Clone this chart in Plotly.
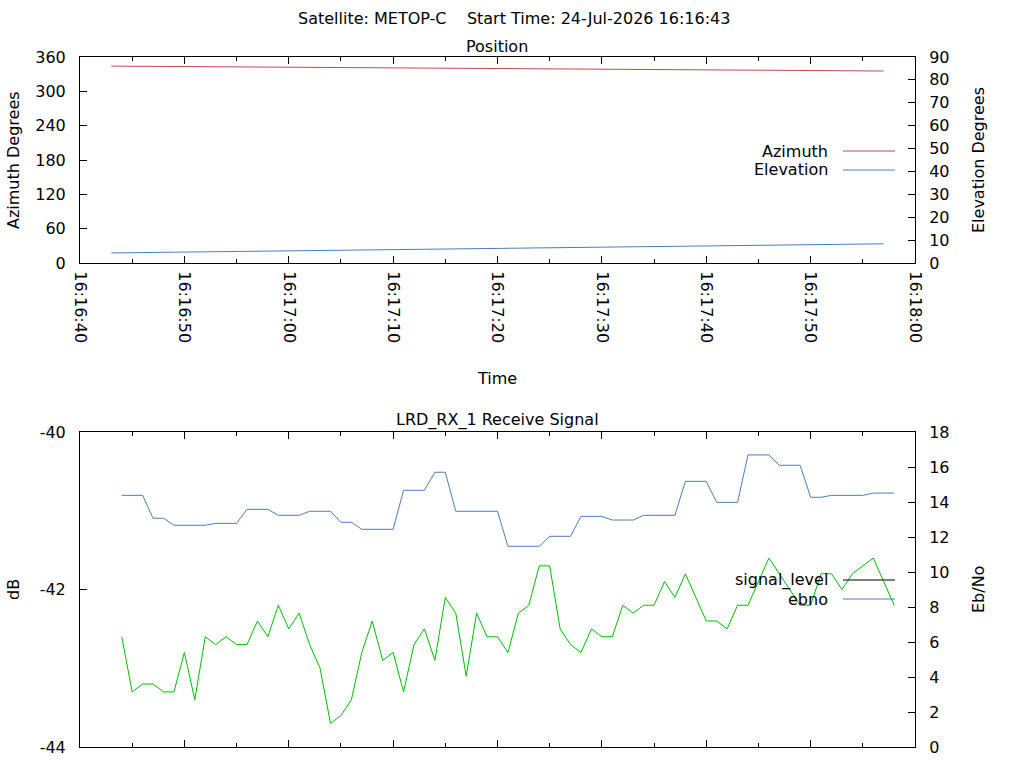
import pandas as pd
import plotly.graph_objects as go

# ---------------- data ----------------
DATE = "2026-07-24"
title_text = "Satellite: METOP-C    Start Time: 24-Jul-2026 16:16:43"

pos_times = ["16:16:43", "16:16:48", "16:16:53", "16:16:58", "16:17:03", "16:17:08",
             "16:17:13", "16:17:18", "16:17:23", "16:17:28", "16:17:33", "16:17:38",
             "16:17:43", "16:17:48", "16:17:53", "16:17:57"]
azimuth = [344.1, 343.6, 343.0, 342.5, 342.0, 341.5, 340.9, 340.3,
           339.7, 339.1, 338.5, 337.85, 337.2, 336.6, 336.0, 335.5]
elevation = [4.39, 4.67, 4.94, 5.21, 5.48, 5.74, 6.01, 6.28,
             6.55, 6.82, 7.09, 7.36, 7.62, 7.89, 8.16, 8.37]

sig_start = "16:16:44"
signal_level = [-42.6, -43.3, -43.2, -43.2, -43.3, -43.3, -42.8, -43.4, -42.6, -42.7,
                -42.6, -42.7, -42.7, -42.4, -42.6, -42.2, -42.5, -42.3, -42.7, -43.0,
                -43.7, -43.6, -43.4, -42.8, -42.4, -42.9, -42.8, -43.3, -42.7, -42.5,
                -42.9, -42.1, -42.3, -43.1, -42.3, -42.6, -42.6, -42.8, -42.3, -42.2,
                -41.7, -41.7, -42.5, -42.7, -42.8, -42.5, -42.6, -42.6, -42.2, -42.3,
                -42.2, -42.2, -41.9, -42.1, -41.8, -42.1, -42.4, -42.4, -42.5, -42.2,
                -42.2, -41.9, -41.6, -41.8, -42.0, -42.2, -42.2, -41.8, -41.8, -42.0,
                -41.8, -41.7, -41.6, -41.9, -42.2]
ebno = [14.38, 14.38, 14.38, 13.07, 13.07, 12.67, 12.67, 12.67, 12.67, 12.78,
        12.78, 12.78, 13.58, 13.58, 13.58, 13.24, 13.24, 13.24, 13.47, 13.47,
        13.47, 12.84, 12.84, 12.44, 12.44, 12.44, 12.44, 14.67, 14.67, 14.67,
        15.70, 15.70, 13.47, 13.47, 13.47, 13.47, 13.47, 11.47, 11.47, 11.47,
        11.47, 12.04, 12.04, 12.04, 13.18, 13.18, 13.18, 12.97, 12.97, 12.97,
        13.24, 13.24, 13.24, 13.24, 15.18, 15.18, 15.18, 13.98, 13.98, 13.98,
        16.69, 16.69, 16.69, 16.10, 16.10, 16.10, 14.27, 14.27, 14.38, 14.38,
        14.38, 14.38, 14.51, 14.51, 14.51]

x_range = ["16:16:40", "16:18:00"]
az_ticks = [0, 60, 120, 180, 240, 300, 360]
el_ticks = [0, 10, 20, 30, 40, 50, 60, 70, 80, 90]
db_ticks = [-44, -42, -40]
db_ticktext = ["-44", "-42", "-40"]
ebno_ticks = [0, 2, 4, 6, 8, 10, 12, 14, 16, 18]

# ---------------- styles ----------------
RED = "#bf4a47"
BLUE = "#4a7ebb"
GREEN = "#00c000"
W, H = 1024, 768
FONT = "DejaVu Sans"


def px(x):
    return x / W


def py(y):
    return 1 - y / H


pos_x = pd.to_datetime([f"{DATE} {t}" for t in pos_times])
sig_x = pd.date_range(f"{DATE} {sig_start}", periods=len(signal_level), freq="1s")
xr = [f"{DATE} {t}" for t in x_range]

fig = go.Figure()
fig.add_trace(go.Scatter(x=pos_x, y=azimuth, mode="lines", name="Azimuth",
                         line=dict(color=RED, width=1), xaxis="x", yaxis="y"))
fig.add_trace(go.Scatter(x=pos_x, y=elevation, mode="lines", name="Elevation",
                         line=dict(color=BLUE, width=1), xaxis="x", yaxis="y2"))
fig.add_trace(go.Scatter(x=sig_x, y=signal_level, mode="lines", name="signal_level",
                         line=dict(color=GREEN, width=1), xaxis="x2", yaxis="y3"))
fig.add_trace(go.Scatter(x=sig_x, y=ebno, mode="lines", name="ebno",
                         line=dict(color=BLUE, width=1), xaxis="x2", yaxis="y4"))

dom_x = [px(80), px(915)]
dom_top = [py(263), py(57)]
dom_bot = [py(747), py(432)]

common_x = dict(type="date", range=xr, domain=dom_x, showline=True, linecolor="black",
                linewidth=1, mirror="ticks", ticks="inside", ticklen=7, tickcolor="black",
                dtick=10000, showgrid=False, zeroline=False, automargin=False,
                minor=dict(dtick=5000, ticks="inside", ticklen=4, tickcolor="black",
                           showgrid=False))
common_y = dict(showline=True, linecolor="black", linewidth=1, ticks="inside", ticklen=7,
                tickcolor="black", showgrid=False, zeroline=False, ticklabelstandoff=10,
                automargin=False)

fig.update_layout(
    width=W, height=H, autosize=False,
    template="none",
    margin=dict(l=0, r=0, t=0, b=0, pad=0),
    paper_bgcolor="white", plot_bgcolor="white",
    font=dict(family=FONT, size=16, color="black"),
    showlegend=False,
    xaxis=dict(common_x, anchor="y", tickformat="%H:%M:%S", tickangle=90,
               ticklabelstandoff=4),
    yaxis=dict(common_y, domain=dom_top, anchor="x", range=[0, 360], tickvals=az_ticks),
    yaxis2=dict(common_y, overlaying="y", side="right", anchor="x", range=[0, 90],
                tickvals=el_ticks),
    xaxis2=dict(common_x, anchor="y3", showticklabels=False),
    yaxis3=dict(common_y, domain=dom_bot, anchor="x2", range=[-44, -40],
                tickvals=db_ticks, ticktext=db_ticktext),
    yaxis4=dict(common_y, overlaying="y3", side="right", anchor="x2", range=[0, 18],
                tickvals=ebno_ticks),
)

ann = []


def text(x, y, s, angle=0, xanchor="center"):
    ann.append(dict(x=px(x), y=py(y), xref="paper", yref="paper", text=s, showarrow=False,
                    textangle=angle, xanchor=xanchor, yanchor="middle",
                    font=dict(family=FONT, size=16, color="black")))


text(514, 18, title_text.replace("    ", "&nbsp;&nbsp;&nbsp;&nbsp;"))
text(497, 46, "Position")
text(497, 379, "Time")
text(497, 420, "LRD_RX_1 Receive Signal")
text(13, 160, "Azimuth Degrees", angle=-90)
text(978, 160, "Elevation Degrees", angle=-90)
text(13, 590, "dB", angle=-90)
text(978, 590, "Eb/No", angle=-90)

shapes = []
legend_rows = [("Azimuth", RED, 151), ("Elevation", BLUE, 170),
               ("signal_level", "black", 580), ("ebno", BLUE, 599)]
for name, col, yy in legend_rows:
    text(830, yy, name, xanchor="right")
    shapes.append(dict(type="line", xref="paper", yref="paper", x0=px(843), x1=px(895),
                       y0=py(yy), y1=py(yy), line=dict(color=col, width=1)))

fig.update_layout(annotations=ann, shapes=shapes)
fig.write_html("out.html",
               config={"displayModeBar": False, "staticPlot": True},
               post_script="document.body.style.margin='0';"
                           "document.body.style.overflow='hidden';")
